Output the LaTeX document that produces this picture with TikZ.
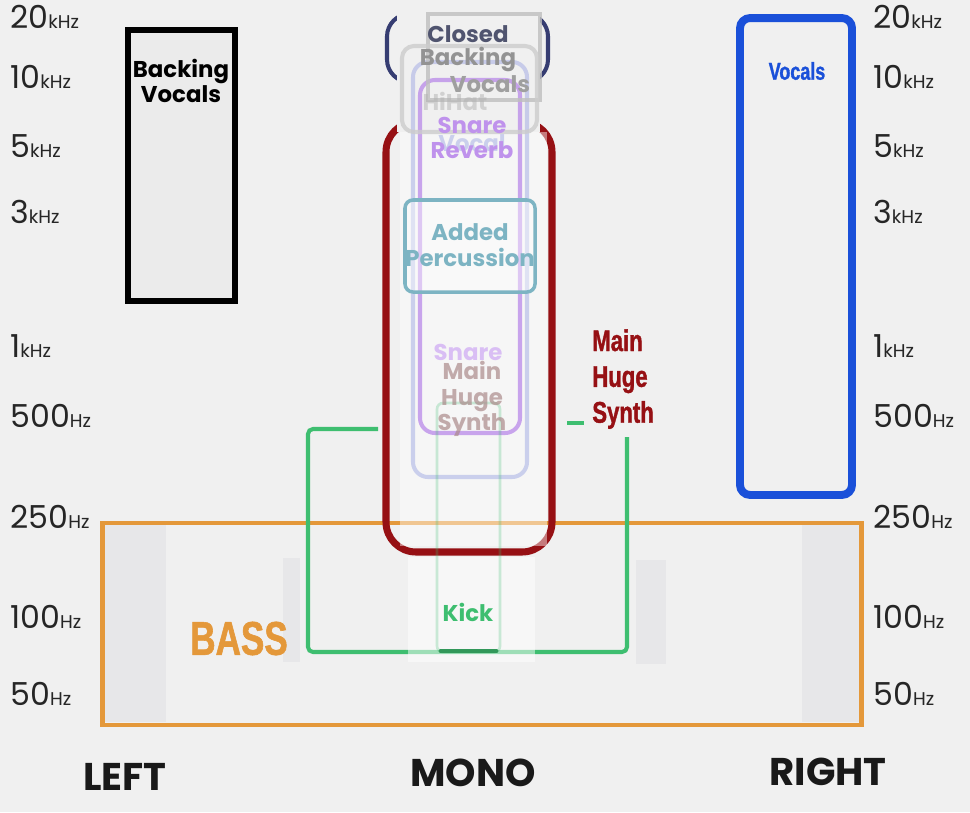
\documentclass[tikz,border=0pt]{standalone}
\usepackage{fontspec}
\setmainfont{Poppins}
\newfontfamily\condfont[FakeStretch=0.74, FakeBold=1.2, UprightFont=* Bold]{Liberation Sans}
\newcommand\unitsz{\fontsize{10.5}{11}\selectfont}

\definecolor{bggray}{RGB}{240,240,240}
\definecolor{stripe}{RGB}{231,231,233}
\definecolor{bassorange}{RGB}{228,152,58}
\definecolor{kickgreen}{RGB}{62,190,112}
\definecolor{synthred}{RGB}{150,16,20}
\definecolor{vocalblue}{RGB}{26,80,217}
\definecolor{navyline}{RGB}{22,30,92}
\definecolor{percteal}{RGB}{125,180,195}
\definecolor{snarepurple}{RGB}{170,110,230}
\definecolor{lavblue}{RGB}{150,160,225}

\begin{document}
\begin{tikzpicture}[
    x=0.02cm, y=-0.02cm,
    every node/.style={inner sep=0pt},
    freq/.style={anchor=base west, font=\fontsize{18}{18}\selectfont, text=black!85},
    chan/.style={font=\bfseries\fontsize{22}{22}\selectfont, text=black!90},
    tag/.style={font=\condfont\fontsize{17}{20.4}\selectfont, align=left},
    lbl/.style={font=\bfseries\fontsize{13}{14.5}\selectfont, align=center},
    ghost/.style={rounded corners=0.3cm, line width=2.3pt},
    wire/.style={kickgreen, line width=2.3pt, rounded corners=0.1cm}
]
    % background
    \fill[bggray] (0,0) rectangle (970,812);
    % bass band
    \fill[stripe] (105,525) rectangle (166,722);
    \fill[stripe] (802,525) rectangle (860,722);
    \fill[stripe] (283,558) rectangle (300,662);
    \fill[stripe] (636,560) rectangle (666,664);
    \node[draw=bassorange, line width=2.8pt, minimum width=15.19cm,
          minimum height=4.04cm] (bass) at (482.25,624) {};
    % kick bracket
    \draw[wire] (378,429) -- (308,429) -- (308,652) -- (627,652) -- (627,437);
    \draw[wire] (567,423) -- (584,423);
    % synth and top boxes
    \draw[navyline, line width=2.3pt, rounded corners=0.45cm, opacity=.85]
        (387,14) rectangle (548,82);
    \draw[synthred, line width=4pt, rounded corners=0.6cm] (386,122) rectangle (552,552);
    \fill[black!6] (397,8) rectangle (540,132);
    \fill[white, opacity=.45] (400,132) rectangle (547,546);
    \fill[white, opacity=.5] (408,557) rectangle (535,662);
    % faded layers
    \draw[ghost, lavblue, opacity=.45] (413,62) rectangle (527,477);
    \draw[ghost, snarepurple, opacity=.6] (420,80) rectangle (520,433);
    \draw[gray!50, line width=2.3pt, opacity=.8] (428,14) rectangle (540,100);
    \draw[gray!40, line width=2.3pt, rounded corners=0.24cm, opacity=.8]
        (402,46) rectangle (537,132);
    \draw[percteal, line width=2pt, rounded corners=0.16cm, fill=white, fill opacity=.4]
        (405,200) rectangle (535,292);
    \draw[kickgreen, line width=1.5pt, rounded corners=0.12cm, opacity=.25]
        (437,403) rectangle (500,652);
    \draw[kickgreen!80!black, line width=2.8pt, line cap=round] (441,651) -- (496,651);
    % side boxes
    \node[draw=black, line width=3.4pt, fill=black!8, minimum width=2.14cm,
          minimum height=5.42cm] (bvbox) at (181.5,165.5) {};
    \node[draw=vocalblue, line width=4.5pt, rounded corners=0.2cm, minimum width=2.24cm,
          minimum height=9.54cm] (vocbox) at (796,256.5) {};
    % labels
    \node[lbl] (bvtext) at (181,81) {Backing\\Vocals};
    \node[tag, text=vocalblue, font=\condfont\fontsize{13.8}{14}\selectfont]
        (voctext) at (797,71) {Vocals};
    \node[tag, text=synthred, anchor=north west] (synthtext) at (592,329) {Main\\Huge\\Synth};
    \node[tag, text=bassorange, font=\condfont\fontsize{27}{27}\selectfont]
        (basstext) at (239,638.5) {BASS};
    \node[lbl, text=kickgreen] (kicktext) at (468,612) {Kick};
    % faded labels in the middle
    \node[lbl, anchor=north, text=navyline!45!gray] (cbtext) at (468,25) {Closed\\[-1pt]\textcolor{gray!85}{Backing}};
    \node[lbl, text=gray!75] (cbvoc) at (490,84) {Vocals};
    \node[lbl, text=gray!60, opacity=.5] (hihat) at (455,101) {HiHat};
    \node[lbl, text=lavblue, opacity=.45] (vrtext) at (472,143) {Vocal};
    \node[lbl, text=snarepurple!75!white] (srtext) at (472,138) {Snare\\Reverb};
    \node[lbl, text=percteal] (perctext) at (470,245) {Added\\Percussion};
    \node[lbl, text=snarepurple!45!white] (snaretext) at (468,352) {Snare};
    \node[lbl, anchor=north, text=synthred!35!gray!70, opacity=.7] (ghostsynth) at (472,361) {Main\\Huge\\Synth};
    % frequency scales
    \foreach \y/\v/\u [count=\i] in {28/20/kHz, 88/10/kHz, 157/5/kHz, 223/3/kHz,
            357/1/kHz, 427/500/Hz, 528/250/Hz, 628/100/Hz, 705/50/Hz} {
        \node[freq] (fl\i) at (10,\y) {\v{\unitsz\u}};
        \node[freq] (fr\i) at (873,\y) {\v{\unitsz\u}};
    }
    % channels
    \node[chan] (left) at (125,776.5) {LEFT};
    \node[chan] (mono) at (473,773) {MONO};
    \node[chan] (right) at (828,771.5) {RIGHT};
\end{tikzpicture}
\end{document}
